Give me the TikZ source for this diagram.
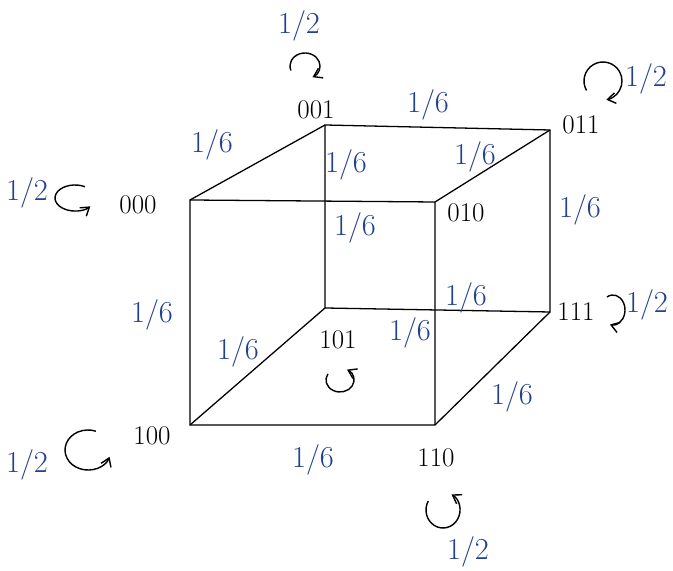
\documentclass[tikz,border=0pt]{standalone}
\usepackage{fontspec}
\usepackage{tikz}
\usetikzlibrary{arrows.meta}
\usepackage{xcolor}
\definecolor{mcblue}{RGB}{35,65,145}

\begin{document}
\begin{tikzpicture}[
  x=0.03cm, y=0.03cm,
  cubeedge/.style={draw=black, line width=1.1pt},
  state/.style={font=\fontsize{23}{23}\selectfont, inner sep=1pt},
  prob/.style={text=mcblue, font=\fontsize{26}{26}\selectfont, inner sep=1pt},
  selfarr/.style={-{Straight Barb[length=2.4mm, width=3.2mm]}, line width=1.2pt}
]
\useasboundingbox (0,0) rectangle (673,571);

% cube corners
\coordinate (v000) at (190,371);
\coordinate (v010) at (435,369);
\coordinate (v100) at (190,146);
\coordinate (v110) at (435,146);
\coordinate (v001) at (325,446);
\coordinate (v011) at (550,441);
\coordinate (v101) at (325,263);
\coordinate (v111) at (550,259);

\draw[cubeedge] (v000) -- (v010) -- (v110) -- (v100) -- cycle;
\draw[cubeedge] (v001) -- (v011) -- (v111) -- (v101) -- cycle;
\draw[cubeedge] (v000) -- (v001);
\draw[cubeedge] (v010) -- (v011);
\draw[cubeedge] (v100) -- (v101);
\draw[cubeedge] (v110) -- (v111);

% state labels
\node[state] (l000) at (138,366) {000};
\node[state] (l001) at (316,461) {001};
\node[state] (l010) at (466,358) {010};
\node[state] (l011) at (581,446) {011};
\node[state] (l100) at (152,135) {100};
\node[state] (l101) at (338,231) {101};
\node[state] (l110) at (436,113) {110};
\node[state] (l111) at (576,259) {111};

% transition probabilities on the edges
\node[prob] (p1) at (212,426) {1/6};
\node[prob] (p2) at (428,466) {1/6};
\node[prob] (p3) at (346,406) {1/6};
\node[prob] (p4) at (475,414) {1/6};
\node[prob] (p5) at (355,343) {1/6};
\node[prob] (p6) at (580,361) {1/6};
\node[prob] (p7) at (152,256) {1/6};
\node[prob] (p8) at (238,219) {1/6};
\node[prob] (p9) at (410,238) {1/6};
\node[prob] (p10) at (466,273) {1/6};
\node[prob] (p11) at (512,174) {1/6};
\node[prob] (p12) at (313,111) {1/6};

% self loops
\coordinate (c000) at (75,373);
\coordinate (c001) at (305,505);
\coordinate (c011) at (603,490);
\coordinate (c111) at (613,261);
\coordinate (c100) at (88,121);
\coordinate (c101) at (340,191);
\coordinate (c110) at (443,61);
\draw[selfarr] (c000) ++(60:20 and 13) arc[start angle=60, end angle=320, x radius=20, y radius=13];
\draw[selfarr] (c001) ++(200:15 and 13) arc[start angle=200, end angle=-60, x radius=15, y radius=13];
\draw[selfarr] (c011) ++(210:19 and 19) arc[start angle=210, end angle=-80, x radius=19, y radius=19];
\draw[selfarr] (c111) ++(120:12 and 15) arc[start angle=120, end angle=-105, x radius=12, y radius=15];
\draw[selfarr] (c100) ++(70:23 and 20) arc[start angle=70, end angle=340, x radius=23, y radius=20];
\draw[selfarr] (c101) ++(150:14 and 12) arc[start angle=150, end angle=420, x radius=14, y radius=12];
\draw[selfarr] (c110) ++(150:17 and 18) arc[start angle=150, end angle=420, x radius=17, y radius=18];

% loop probabilities
\node[prob] (q000) at (27,378) {1/2};
\node[prob] (q001) at (299,545) {1/2};
\node[prob] (q011) at (646,492) {1/2};
\node[prob] (q111) at (647,266) {1/2};
\node[prob] (q100) at (27,106) {1/2};
\node[prob] (q110) at (468,19) {1/2};
\end{tikzpicture}
\end{document}
